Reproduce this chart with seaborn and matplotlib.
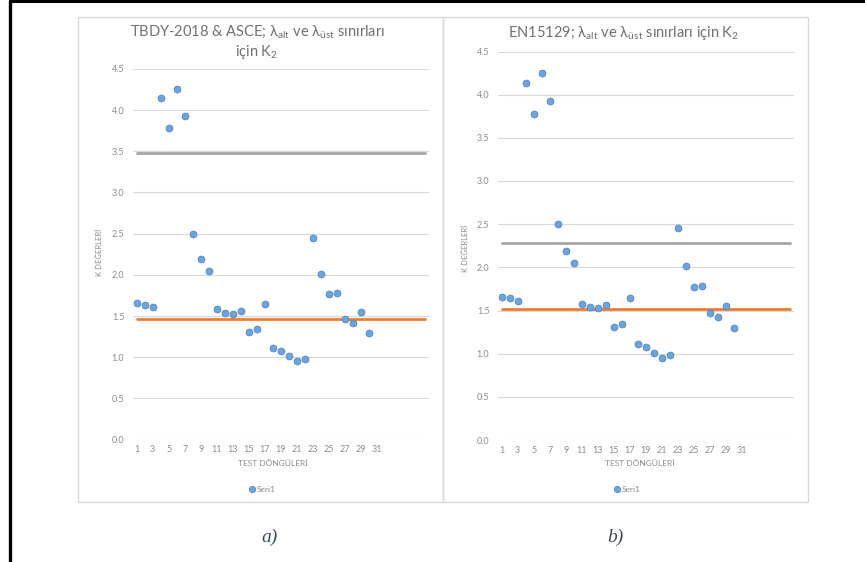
import numpy as np
import pandas as pd
import matplotlib
matplotlib.use("Agg")
import matplotlib.pyplot as plt
import seaborn as sns
from matplotlib.lines import Line2D
from matplotlib.patches import Rectangle

# ---------------- data ----------------
cycles = list(range(1, 31))
k_values = [1.66, 1.64, 1.61, 4.14, 3.78, 4.25, 3.93, 2.50, 2.19, 2.05,
            1.58, 1.54, 1.53, 1.56, 1.31, 1.34, 1.65, 1.11, 1.08, 1.01,
            0.95, 0.98, 2.45, 2.01, 1.77, 1.78, 1.47, 1.42, 1.55, 1.30]
limit_cycles = list(range(1, 38))
tbdy_upper = 3.48
tbdy_lower = 1.46
en_upper = 2.28
en_lower = 1.52
x_ticks = list(range(1, 32, 2))
y_ticks = [0.0, 0.5, 1.0, 1.5, 2.0, 2.5, 3.0, 3.5, 4.0, 4.5]
titles = ["TBDY-2018 & ASCE; λ$_{\\mathrm{alt}}$ ve λ$_{\\mathrm{üst}}$ sınırları\niçin K$_{\\mathrm{2}}$",
          "EN15129; λ$_{\\mathrm{alt}}$ ve λ$_{\\mathrm{üst}}$ sınırları için K$_{\\mathrm{2}}$"]
captions = ["a)", "b)"]
x_label = "TEST DÖNGÜLERİ"
y_label = "K DEĞERLERİ"
series_name = "Seri1"

df = pd.DataFrame({"cycle": cycles, "k": k_values})

# ---------------- style ----------------
sns.set_theme(style="white")
plt.rcParams["font.family"] = ["Lato", "DejaVu Sans"]
plt.rcParams["mathtext.fontset"] = "custom"
plt.rcParams["mathtext.rm"] = "Lato"
plt.rcParams["mathtext.it"] = "Lato:italic"
plt.rcParams["mathtext.bf"] = "Lato:bold"

W, H = 865, 562
fig = plt.figure(figsize=(W / 100, H / 100), dpi=100)
fig.patch.set_facecolor("white")


def fx(px):
    return px / W


def fy(py):
    return 1 - py / H


# outer black frame (top and left)
fig.add_artist(Line2D([fx(9.5), 1], [fy(1), fy(1)], color="black", lw=2.2))
fig.add_artist(Line2D([fx(9.5), fx(9.5)], [0, fy(1)], color="black", lw=2.4))

# chart boxes
for x0, x1 in [(78, 443), (443, 808)]:
    fig.add_artist(Rectangle((fx(x0), fy(502)), fx(x1) - fx(x0), fy(17) - fy(502),
                             fill=False, edgecolor="#d9d9d9", lw=1.0))

panels = [
    dict(x0=132.7, x1=428.7, ytop=68.8, ybot=439.7, upper=tbdy_upper, lower=tbdy_lower,
         title_x=257, title_y=42, xl_x=273, yl_x=100, yl_y=252, leg_x=262, cap_x=270),
    dict(x0=497.7, x1=793.7, ytop=51.5, ybot=440.0, upper=en_upper, lower=en_lower,
         title_x=624, title_y=33, xl_x=640, yl_x=465, yl_y=248, leg_x=627, cap_x=615),
]

tick_color = "#8c8c8c"
grid_color = "#d9d9d9"
pt_face = "#6fa3dc"
pt_edge = "#4f86c6"

for i, p in enumerate(panels):
    ax = fig.add_axes([fx(p["x0"]), fy(p["ybot"]), fx(p["x1"]) - fx(p["x0"]),
                       fy(p["ytop"]) - fy(p["ybot"])])
    ax.set_facecolor("white")
    sns.lineplot(x=limit_cycles, y=[p["upper"]] * len(limit_cycles), ax=ax,
                 color="#a5a5a5", lw=2.0, legend=False, zorder=2)
    sns.lineplot(x=limit_cycles, y=[p["lower"]] * len(limit_cycles), ax=ax,
                 color="#ed7d31", lw=2.0, legend=False, zorder=2)
    sns.scatterplot(data=df, x="cycle", y="k", ax=ax, color=pt_face, edgecolor=pt_edge,
                    linewidth=0.6, s=24, legend=False, zorder=3)
    ax.set_xlim(0.5, 37.5)
    ax.set_ylim(0, 4.5)
    ax.set_xticks(x_ticks)
    ax.set_xticklabels([str(t) for t in x_ticks])
    ax.set_yticks(y_ticks)
    ax.set_yticklabels([f"{t:.1f}" for t in y_ticks])
    ax.tick_params(axis="both", length=0, labelsize=6.5, colors=tick_color)
    ax.tick_params(axis="x", pad=4)
    ax.tick_params(axis="y", pad=6)
    ax.grid(axis="y", color=grid_color, lw=0.8)
    ax.set_axisbelow(True)
    for s in ax.spines.values():
        s.set_visible(False)
    ax.set_xlabel("")
    ax.set_ylabel("")

    fig.text(fx(p["title_x"]), fy(p["title_y"]), titles[i], ha="center", va="center",
             fontsize=10.5, color="#707070", linespacing=1.2)
    fig.text(fx(p["xl_x"]), fy(464), x_label, ha="center", va="center",
             fontsize=6, color=tick_color)
    fig.text(fx(p["yl_x"]), fy(p["yl_y"]), y_label, ha="center", va="center",
             rotation=90, fontsize=5.5, color=tick_color)
    handle = Line2D([], [], marker="o", ls="", markerfacecolor=pt_face,
                    markeredgecolor=pt_edge, markersize=4.5, markeredgewidth=0.6)
    ax.legend([handle], [series_name], loc="center",
              bbox_to_anchor=(fx(p["leg_x"]), fy(489)), bbox_transform=fig.transFigure,
              frameon=False, fontsize=6, handletextpad=0.1, handlelength=1.0,
              labelcolor=tick_color)
    fig.text(fx(p["cap_x"]), fy(537), captions[i], ha="center", va="center",
             fontsize=14, style="italic", color="#3a4a5e",
             family=["Liberation Serif", "DejaVu Serif"])

fig.savefig("out.png", dpi=100, facecolor="white")
